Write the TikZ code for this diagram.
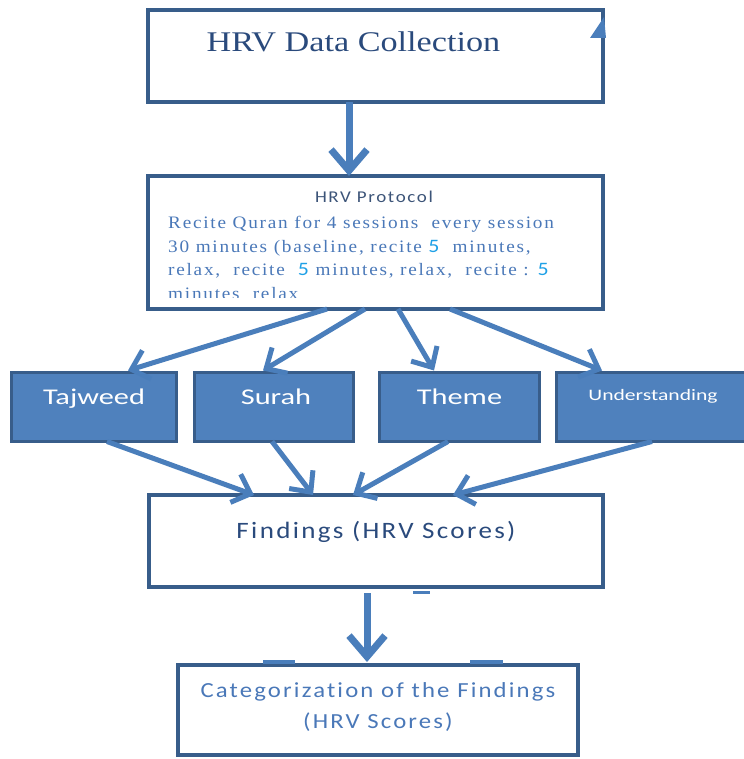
\documentclass[tikz,border=0pt]{standalone}
\usepackage{fontspec}
\setmainfont{Liberation Serif}
\newfontfamily\titlefont{Liberation Serif}[FakeStretch=1.2]
\newfontfamily\bodyfont{Liberation Serif}[FakeStretch=1.1,LetterSpace=10]
\newfontfamily\labelfont{Carlito}[FakeStretch=1.15,LetterSpace=10,Ligatures=NoCommon]
\newfontfamily\boxfont{Carlito}[FakeStretch=1.35]
\usetikzlibrary{%
    arrows.meta,
    positioning,
    calc
}
\definecolor{boxline}{HTML}{385D8A}
\definecolor{boxfill}{HTML}{4F81BD}
\definecolor{arrowblue}{HTML}{4A7EBB}
\definecolor{titleblue}{HTML}{2A4A7C}
\definecolor{protitle}{HTML}{3C5478}
\definecolor{textblue}{HTML}{4A78B8}
\definecolor{numcyan}{HTML}{1EA0E6}
\newcommand{\qfive}{{\labelfont\color{numcyan}\fontsize{19}{23.3}\selectfont 5}}

\begin{document}
\begin{tikzpicture}[x=1pt, y=-1pt,
    box/.style={rectangle, draw=boxline, line width=4pt, outer sep=0pt, inner sep=0pt},
    cat/.style={box, fill=boxfill, line width=3pt},
    arr/.style={draw=arrowblue, line width=5pt, -{Straight Barb[length=16pt,width=30pt]}},
    bigarr/.style={arr, line width=7pt, -{Straight Barb[length=21pt,width=36pt]}}]
      \useasboundingbox (0,0) rectangle (743,759);

      \node[box, minimum width=455pt, minimum height=92pt] (collect) at (375.5,56) {};
      \node[box, minimum width=455pt, minimum height=133pt] (protocol) at (375.5,242.5) {};
      \node[cat, minimum width=165pt, minimum height=69pt] (f_1) at (94,407) {};
      \node[cat, minimum width=159pt, minimum height=69pt] (f_2) at (274,407) {};
      \node[cat, minimum width=160pt, minimum height=69pt] (f_3) at (459.5,407) {};
      \node[cat, minimum width=204pt, minimum height=69pt] (f_4) at (658,407) {};
      \node[box, minimum width=454pt, minimum height=92pt] (findings) at (376,541) {};
      \node[box, minimum width=400pt, minimum height=90pt] (categ) at (378,710) {};

      \node[anchor=base, text=titleblue, font=\titlefont\fontsize{28.5}{30}\selectfont] (collect_t) at ([xshift=-22pt,yshift=-42pt]collect.north) {HRV Data Collection};
      \node[anchor=base, text=protitle, font=\labelfont\fontsize{16.5}{18}\selectfont] (protocol_t) at ([xshift=-1.5pt,yshift=-27pt]protocol.north) {HRV Protocol};
      \begin{scope}
        \clip (protocol.north west) rectangle ([yshift=12pt]protocol.south east);
        \node[anchor=base west, align=left, inner sep=0pt, text=textblue, font=\bodyfont\fontsize{17.5}{23.5}\selectfont] (protocol_b) at ([xshift=20pt,yshift=-123pt]protocol.north west) {Recite Quran for 4 sessions\ \ every session\\30 minutes (baseline, recite \qfive\ \ minutes,\\relax,\ \ recite\ \ \qfive\ minutes, relax,\ \ recite : \qfive\\minutes\ \ relax};
      \end{scope}

      \node[anchor=base, text=white, font=\boxfont\fontsize{22.5}{24}\selectfont] (f_1t) at ([yshift=-31.5pt]f_1.north) {Tajweed};
      \node[anchor=base, text=white, font=\boxfont\fontsize{22.5}{24}\selectfont] (f_2t) at ([xshift=2pt,yshift=-31.5pt]f_2.north) {Surah};
      \node[anchor=base, text=white, font=\boxfont\fontsize{22.5}{24}\selectfont] (f_3t) at ([yshift=-31.5pt]f_3.north) {Theme};
      \node[anchor=base, text=white, font=\boxfont\fontsize{16}{18}\selectfont] (f_4t) at ([xshift=-5pt,yshift=-27.5pt]f_4.north) {Understanding};

      \node[anchor=base, text=titleblue, font=\labelfont\fontsize{23.5}{26}\selectfont] (findings_t) at ([yshift=-43pt]findings.north) {Findings (HRV Scores)};
      \node[anchor=base, align=center, text=textblue, font=\labelfont\fontsize{21.5}{31}\selectfont] (categ_t) at ([yshift=-63pt]categ.north) {Categorization of the Findings\\(HRV Scores)};

      \draw[bigarr] ([xshift=-26.5pt]collect.south) -- ([xshift=-26.5pt]protocol.north);

      \draw[arr] ([xshift=-48.5pt]protocol.south) -- ([xshift=34pt,yshift=2pt]f_1.north);
      \draw[arr] ([xshift=-10.5pt]protocol.south) -- ([xshift=-11pt,yshift=2pt]f_2.north);
      \draw[arr] ([xshift=22.5pt]protocol.south) -- ([xshift=-25.5pt,yshift=2pt]f_3.north);
      \draw[arr] ([xshift=74.5pt]protocol.south) -- ([xshift=-56pt,yshift=2pt]f_4.north);

      \draw[arr] ([xshift=13pt]f_1.south) -- ([xshift=-122pt]findings.north);
      \draw[arr] ([xshift=-2pt]f_2.south) -- ([xshift=-63pt]findings.north);
      \draw[arr] ([xshift=-11.5pt]f_3.south) -- ([xshift=-23pt]findings.north);
      \draw[arr] ([xshift=-6pt]f_4.south) -- ([xshift=77pt]findings.north);

      \draw[bigarr, shorten <=6pt] ([xshift=-9pt]findings.south) -- ([xshift=-11pt,yshift=3pt]categ.north);

      \fill[arrowblue] (590,38) -- (604,17) -- (606,38) -- cycle;
      \draw[arrowblue, line width=3pt] (413,592) -- (430,592);
      \draw[arrowblue, line width=4pt] (263,662) -- (295,662) (470,662) -- (503,662);
\end{tikzpicture}
\end{document}
